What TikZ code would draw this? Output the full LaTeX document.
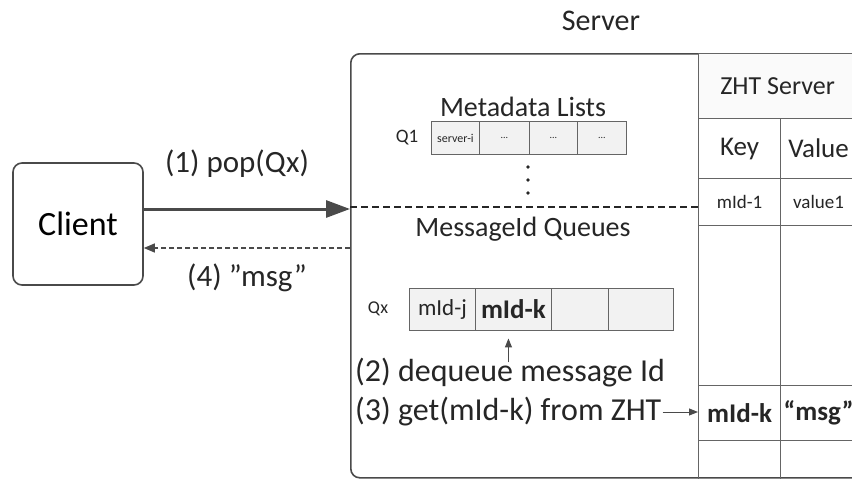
\documentclass[tikz,border=0pt]{standalone}
\usepackage{fontspec}
\setmainfont{Carlito}
\usetikzlibrary{arrows.meta,positioning}
\definecolor{ink}{HTML}{262626}
\definecolor{edge}{HTML}{4A4A4A}
\definecolor{cellfill}{HTML}{F2F2F2}
\definecolor{headfill}{HTML}{FAFAFA}
\newcommand{\fs}[1]{\fontsize{#1}{#1}\selectfont}
\tikzset{
  roundbox/.style={draw=edge,line width=1.6pt,rounded corners=9pt,fill=white,inner sep=0pt},
  lbl/.style={text=ink,inner sep=1pt},
  qcell/.style={draw=edge!85,line width=0.9pt,fill=cellfill,inner sep=0pt,anchor=west,text=ink,
    minimum height=33pt},
  qxcell/.style={qcell,minimum height=42pt},
  tcell/.style={draw=edge!85,line width=1.1pt,inner sep=0pt,anchor=north west,text=ink},
  keycol/.style={tcell,minimum width=82pt},
  valcol/.style={tcell,minimum width=76pt},
  bigarr/.style={-{Triangle[length=24pt,width=17pt]},line width=3pt,draw=edge},
  retarr/.style={-{Triangle[length=11pt,width=9pt]},line width=1.2pt,dash pattern=on 5pt off 3pt,draw=edge},
  thinarr/.style={-{Triangle[length=9pt,width=7pt]},line width=1pt,draw=edge},
  sepline/.style={line width=1.2pt,dash pattern=on 7pt off 4pt,draw=ink},
}

\begin{document}
\begin{tikzpicture}[x=1pt,y=-1pt]
  \clip (0,0) rectangle (852,479);
  \node[lbl,font=\fs{30}] (srvtitle) at (601,21) {Server};
  \node[roundbox,minimum width=560pt,minimum height=424pt,anchor=north west] (server) at (350,53) {};
  \node[roundbox,minimum width=130pt,minimum height=122pt,font=\fs{34}] (client) at (78,224) {Client};
  \node[tcell,fill=headfill,minimum width=158pt,minimum height=65pt,font=\fs{26}] (zhthead) at (698,53) {ZHT Server};
  \node[keycol,minimum height=60pt,font=\fs{27}] (keyhd) at (698,118) {Key};
  \node[valcol,minimum height=60pt,font=\fs{27}] (valhd) at (780,118) {Value};
  \node[keycol,minimum height=47pt,font=\fs{19}] (key1) at (698,178) {mId-1};
  \node[valcol,minimum height=47pt,font=\fs{19}] (val1) at (780,178) {value1};
  \node[keycol,minimum height=160pt] (keyE) at (698,225) {};
  \node[valcol,minimum height=160pt] (valE) at (780,225) {};
  \node[keycol,minimum height=55pt,font=\fs{27}\bfseries] (keyK) at (698,385) {mId-k};
  \node[valcol,minimum height=55pt,font=\fs{27}\bfseries] (valK) at (780,385) {“msg”};
  \node[keycol,minimum height=50pt] (keyL) at (698,440) {};
  \node[valcol,minimum height=50pt] (valL) at (780,440) {};
  \node[lbl,font=\fs{28}] (metatitle) at (523,107) {Metadata Lists};
  \node[lbl,font=\fs{19}] (q1) at (407,138) {Q1};
  \node[qcell,minimum width=48pt,font=\fs{12}] (m1) at (431,138) {server-i};
  \node[qcell,minimum width=50pt,font=\fs{10}] (m2) at (479,138) {...};
  \node[qcell,minimum width=48pt,font=\fs{10}] (m3) at (529,138) {...};
  \node[qcell,minimum width=49pt,font=\fs{10}] (m4) at (577,138) {...};
  \foreach \y in {167,180,193} \fill[ink] (528,\y) circle (1.8pt);
  \node[lbl,font=\fs{28}] (qtitle) at (523,229) {MessageId Queues};
  \node[lbl,font=\fs{18}] (qx) at (378,309) {Qx};
  \node[qxcell,minimum width=66pt,font=\fs{23}] (c1) at (409,309) {mId-j};
  \node[qxcell,minimum width=76pt,font=\fs{27}\bfseries] (c2) at (475,309) {mId-k};
  \node[qxcell,minimum width=57pt] (c3) at (551,309) {};
  \node[qxcell,minimum width=65pt] (c4) at (608,309) {};
  \node[lbl,font=\fs{32},anchor=west] (deq) at (354,373) {(2) dequeue message Id};
  \node[lbl,font=\fs{32},anchor=west] (getk) at (354,412) {(3) get(mId-k) from ZHT};
  \coordinate (sepL) at (350,207);
  \draw[sepline] (sepL) -- (sepL -| key1.west);
  \draw[bigarr] ([yshift=15pt]client.east) -- ([yshift=15pt]client.east -| server.west);
  \draw[retarr] ([yshift=-24pt]client.east -| server.west) -- ([yshift=-24pt]client.east);
  \node[lbl,font=\fs{31}] (popl) at (237,164) {(1) pop(Qx)};
  \node[lbl,font=\fs{31}] (msgl) at (247,278) {(4) ”msg”};
  \draw[thinarr] ([xshift=-5pt,yshift=-32pt]c2.south) -- ([xshift=-5pt,yshift=-8pt]c2.south);
  \draw[thinarr] (getk.east) -- (getk.east -| keyK.west);
\end{tikzpicture}
\end{document}
